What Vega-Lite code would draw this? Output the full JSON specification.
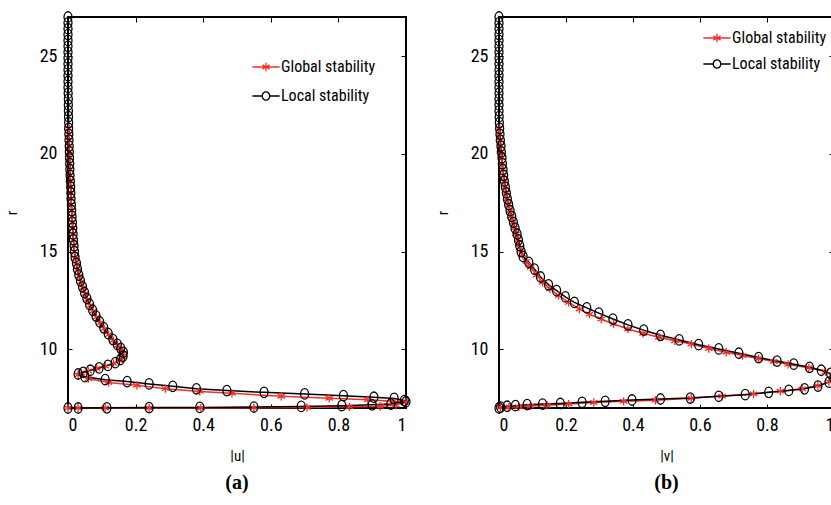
{
"$schema":"https://vega.github.io/schema/vega-lite/v6.json",
"background":"white",
"padding":{"left":3,"top":8,"right":0,"bottom":0},
"spacing":93,
"bounds":"flush",
"config":{
 "font":"Liberation Sans Narrow, Roboto Condensed, DejaVu Sans Condensed, Liberation Sans",
 "view":{"stroke":"black","strokeWidth":2},
 "axis":{"domain":false,"grid":false,"tickColor":"black","tickWidth":1,"labelColor":"black","labelFontSize":18,"titleColor":"black","titleFontWeight":"normal","titleFontSize":15,"labelFont":"Liberation Sans Narrow, Roboto Condensed, DejaVu Sans Condensed, Liberation Sans","titleFont":"Liberation Sans Narrow, Roboto Condensed, DejaVu Sans Condensed, Liberation Sans"},
 "legend":{"labelFont":"Liberation Sans Narrow, Roboto Condensed, DejaVu Sans Condensed, Liberation Sans","labelFontSize":16,"labelColor":"black","symbolStrokeWidth":1.3}
},
"resolve":{"legend":{"color":"independent","shape":"independent"}},
"hconcat":[
{
 "width":338,"height":391,
 "title":{"text":"(a)","orient":"bottom","font":"Liberation Serif","fontSize":20,"fontWeight":"bold","color":"black","offset":10},
 "data":{"values":[
{"s":"g","x":0.002,"r":21.3},{"s":"g","x":0.0025,"r":21.0},{"s":"g","x":0.003,"r":20.7},{"s":"g","x":0.0035,"r":20.4},{"s":"g","x":0.004,"r":20.1},{"s":"g","x":0.0045,"r":19.8},{"s":"g","x":0.005,"r":19.5},{"s":"g","x":0.0055,"r":19.2},{"s":"g","x":0.006,"r":18.9},{"s":"g","x":0.007,"r":18.6},{"s":"g","x":0.008,"r":18.3},{"s":"g","x":0.0085,"r":18.0},{"s":"g","x":0.009,"r":17.7},{"s":"g","x":0.01,"r":17.4},{"s":"g","x":0.011,"r":17.1},{"s":"g","x":0.012,"r":16.8},{"s":"g","x":0.013,"r":16.5},{"s":"g","x":0.014,"r":16.2},{"s":"g","x":0.015,"r":15.9},{"s":"g","x":0.016,"r":15.6},{"s":"g","x":0.018,"r":15.3},{"s":"g","x":0.019,"r":15.0},{"s":"g","x":0.021,"r":14.65},{"s":"g","x":0.025,"r":14.35},{"s":"g","x":0.029,"r":14.05},{"s":"g","x":0.033,"r":13.75},{"s":"g","x":0.038,"r":13.45},{"s":"g","x":0.044,"r":13.15},{"s":"g","x":0.05,"r":12.85},{"s":"g","x":0.057,"r":12.55},{"s":"g","x":0.065,"r":12.25},{"s":"g","x":0.074,"r":11.95},{"s":"g","x":0.084,"r":11.65},{"s":"g","x":0.095,"r":11.35},{"s":"g","x":0.107,"r":11.05},{"s":"g","x":0.12,"r":10.75},{"s":"g","x":0.134,"r":10.45},{"s":"g","x":0.147,"r":10.2},{"s":"g","x":0.157,"r":10.0},{"s":"g","x":0.163,"r":9.8},{"s":"g","x":0.161,"r":9.6},{"s":"g","x":0.152,"r":9.43},{"s":"g","x":0.135,"r":9.27},{"s":"g","x":0.11,"r":9.14},{"s":"g","x":0.085,"r":9.02},{"s":"g","x":0.06,"r":8.9},{"s":"g","x":0.04,"r":8.79},{"s":"g","x":0.03,"r":8.7},{"s":"g","x":0.06,"r":8.5},{"s":"g","x":0.12,"r":8.3},{"s":"g","x":0.204,"r":8.16},{"s":"g","x":0.288,"r":7.99},{"s":"g","x":0.39,"r":7.85},{"s":"g","x":0.485,"r":7.75},{"s":"g","x":0.631,"r":7.6},{"s":"g","x":0.773,"r":7.5},{"s":"g","x":0.887,"r":7.42},{"s":"g","x":0.96,"r":7.34},{"s":"g","x":1.0,"r":7.3},{"s":"g","x":0.97,"r":7.15},{"s":"g","x":0.924,"r":7.08},{"s":"g","x":0.833,"r":7.06},{"s":"g","x":0.707,"r":7.03},{"s":"g","x":0.55,"r":7.01},{"s":"g","x":0.393,"r":7.0},{"s":"g","x":0.24,"r":7.0},{"s":"g","x":0.11,"r":7.0},{"s":"g","x":0.03,"r":7.0},{"s":"g","x":0.0,"r":7.0},
{"s":"l","x":0,"r":27.0},{"s":"l","x":0,"r":26.7},{"s":"l","x":0,"r":26.4},{"s":"l","x":0,"r":26.1},{"s":"l","x":0,"r":25.8},{"s":"l","x":0,"r":25.5},{"s":"l","x":0,"r":25.2},{"s":"l","x":0,"r":24.9},{"s":"l","x":0,"r":24.6},{"s":"l","x":0,"r":24.3},{"s":"l","x":0,"r":24.0},{"s":"l","x":0,"r":23.7},{"s":"l","x":0,"r":23.4},{"s":"l","x":0.0005,"r":23.1},{"s":"l","x":0.001,"r":22.8},{"s":"l","x":0.001,"r":22.5},{"s":"l","x":0.0012,"r":22.2},{"s":"l","x":0.0015,"r":21.9},{"s":"l","x":0.0018,"r":21.6},{"s":"l","x":0.002,"r":21.3},{"s":"l","x":0.0025,"r":21.0},{"s":"l","x":0.003,"r":20.7},{"s":"l","x":0.0035,"r":20.4},{"s":"l","x":0.004,"r":20.1},{"s":"l","x":0.0045,"r":19.8},{"s":"l","x":0.005,"r":19.5},{"s":"l","x":0.0055,"r":19.2},{"s":"l","x":0.006,"r":18.9},{"s":"l","x":0.007,"r":18.6},{"s":"l","x":0.008,"r":18.3},{"s":"l","x":0.0085,"r":18.0},{"s":"l","x":0.009,"r":17.7},{"s":"l","x":0.01,"r":17.4},{"s":"l","x":0.011,"r":17.1},{"s":"l","x":0.012,"r":16.8},{"s":"l","x":0.013,"r":16.5},{"s":"l","x":0.014,"r":16.2},{"s":"l","x":0.015,"r":15.9},{"s":"l","x":0.016,"r":15.6},{"s":"l","x":0.018,"r":15.3},{"s":"l","x":0.019,"r":15.0},{"s":"l","x":0.021,"r":14.7},{"s":"l","x":0.025,"r":14.4},{"s":"l","x":0.028,"r":14.1},{"s":"l","x":0.032,"r":13.8},{"s":"l","x":0.037,"r":13.5},{"s":"l","x":0.043,"r":13.2},{"s":"l","x":0.049,"r":12.9},{"s":"l","x":0.056,"r":12.6},{"s":"l","x":0.064,"r":12.3},{"s":"l","x":0.073,"r":12.0},{"s":"l","x":0.083,"r":11.7},{"s":"l","x":0.094,"r":11.4},{"s":"l","x":0.106,"r":11.1},{"s":"l","x":0.119,"r":10.8},{"s":"l","x":0.133,"r":10.5},{"s":"l","x":0.146,"r":10.25},{"s":"l","x":0.156,"r":10.05},{"s":"l","x":0.164,"r":9.85},{"s":"l","x":0.163,"r":9.65},{"s":"l","x":0.155,"r":9.48},{"s":"l","x":0.14,"r":9.32},{"s":"l","x":0.118,"r":9.18},{"s":"l","x":0.092,"r":9.05},{"s":"l","x":0.066,"r":8.93},{"s":"l","x":0.045,"r":8.82},{"s":"l","x":0.03,"r":8.74},{"s":"l","x":0.05,"r":8.6},{"s":"l","x":0.11,"r":8.45},{"s":"l","x":0.175,"r":8.35},{"s":"l","x":0.24,"r":8.23},{"s":"l","x":0.31,"r":8.11},{"s":"l","x":0.38,"r":7.98},{"s":"l","x":0.47,"r":7.89},{"s":"l","x":0.58,"r":7.8},{"s":"l","x":0.7,"r":7.72},{"s":"l","x":0.815,"r":7.63},{"s":"l","x":0.905,"r":7.55},{"s":"l","x":0.965,"r":7.49},{"s":"l","x":0.995,"r":7.38},{"s":"l","x":1.0,"r":7.32},{"s":"l","x":0.955,"r":7.2},{"s":"l","x":0.9,"r":7.16},{"s":"l","x":0.81,"r":7.12},{"s":"l","x":0.69,"r":7.08},{"s":"l","x":0.55,"r":7.05},{"s":"l","x":0.39,"r":7.03},{"s":"l","x":0.24,"r":7.02},{"s":"l","x":0.115,"r":7.01},{"s":"l","x":0.03,"r":7.0},{"s":"l","x":0.0,"r":7.0}
 ]},
 "resolve":{"scale":{"shape":"independent","color":"independent"}},
 "layer":[
  {"transform":[{"filter":"datum.s=='g'"}],
   "mark":{"type":"line","color":"#f0302a","strokeWidth":1.5},
   "encoding":{
    "x":{"field":"x","type":"quantitative","scale":{"domain":[0,1],"nice":false,"zero":false},"axis":{"orient":"bottom","values":[0,0.2,0.4,0.6,0.8,1],"format":"~g","tickSize":-4,"labelPadding":12,"title":"|u|","titlePadding":14}},
    "y":{"field":"r","type":"quantitative","scale":{"domain":[7,27],"nice":false,"zero":false},"axis":{"orient":"left","values":[10,15,20,25],"tickSize":-4,"labelPadding":15,"title":"r","titlePadding":20}},
    "order":{"value":null}}},
  {"transform":[{"filter":"datum.s=='l'"}],
   "mark":{"type":"line","color":"black","strokeWidth":1.5},
   "encoding":{
    "x":{"field":"x","type":"quantitative","scale":{"domain":[0,1],"nice":false,"zero":false},"axis":{"orient":"top","values":[0.2,0.4,0.6,0.8],"tickSize":-5,"labels":false,"title":null}},
    "y":{"field":"r","type":"quantitative","scale":{"domain":[7,27],"nice":false,"zero":false},"axis":{"orient":"right","values":[10,15,20,25],"tickSize":-5,"labels":false,"title":null}},
    "order":{"value":null}}},
  {"mark":{"type":"point","filled":false,"size":110,"strokeWidth":1.3,"opacity":1},
   "encoding":{
    "x":{"field":"x","type":"quantitative","scale":{"domain":[0,1],"nice":false,"zero":false},"axis":null},
    "y":{"field":"r","type":"quantitative","scale":{"domain":[7,27],"nice":false,"zero":false},"axis":null},
    "color":{"field":"s","type":"nominal","scale":{"domain":["g","l"],"range":["#f0302a","#000000"]},"legend":null},
    "shape":{"field":"s","type":"nominal","scale":{"domain":["g","l"],"range":["M0,-0.8L0,0.8M-0.7,-0.4L0.7,0.4M-0.7,0.4L0.7,-0.4","M0.76,0A0.76,1 0 1 1 -0.76,0A0.76,1 0 1 1 0.76,0"]},"legend":null}
   }},
  {"transform":[{"filter":"datum.r<=7.02"}],
   "mark":{"type":"point","filled":false,"size":110,"strokeWidth":1.3,"opacity":0},
   "encoding":{
    "x":{"field":"x","type":"quantitative","scale":{"domain":[0,1],"nice":false,"zero":false},"axis":null},
    "y":{"field":"r","type":"quantitative","scale":{"domain":[7,27],"nice":false,"zero":false},"axis":null},
    "color":{"field":"s","type":"nominal","scale":{"domain":["g","l"],"range":["#f0302a","#000000"]},
      "legend":{"title":null,"orient":"none","legendX":190,"legendY":42,"rowPadding":13,"labelOffset":7,"symbolSize":110,"symbolOpacity":1,
       "labelExpr":"datum.value=='g' ? 'Global stability' : 'Local stability'"}},
    "shape":{"field":"s","type":"nominal","scale":{"domain":["g","l"],"range":["M-2.6,0L2.6,0M0,-0.8L0,0.8M-0.7,-0.4L0.7,0.4M-0.7,0.4L0.7,-0.4","M-2.6,0L-0.72,0M0.72,0L2.6,0M0.72,0A0.72,0.8 0 1 1 -0.72,0A0.72,0.8 0 1 1 0.72,0"]}}
   }}
 ]
},
{
 "width":335,"height":391,
 "title":{"text":"(b)","orient":"bottom","font":"Liberation Serif","fontSize":20,"fontWeight":"bold","color":"black","offset":10},
 "data":{"values":[
{"s":"g","x":0.0,"r":21.3},{"s":"g","x":0.001,"r":21.0},{"s":"g","x":0.002,"r":20.7},{"s":"g","x":0.004,"r":20.4},{"s":"g","x":0.006,"r":20.1},{"s":"g","x":0.008,"r":19.8},{"s":"g","x":0.009,"r":19.5},{"s":"g","x":0.011,"r":19.2},{"s":"g","x":0.013,"r":18.9},{"s":"g","x":0.015,"r":18.6},{"s":"g","x":0.018,"r":18.3},{"s":"g","x":0.021,"r":18.0},{"s":"g","x":0.024,"r":17.7},{"s":"g","x":0.028,"r":17.4},{"s":"g","x":0.032,"r":17.1},{"s":"g","x":0.036,"r":16.8},{"s":"g","x":0.041,"r":16.5},{"s":"g","x":0.046,"r":16.2},{"s":"g","x":0.051,"r":15.9},{"s":"g","x":0.056,"r":15.6},{"s":"g","x":0.062,"r":15.2},{"s":"g","x":0.07,"r":14.85},{"s":"g","x":0.082,"r":14.5},{"s":"g","x":0.094,"r":14.2},{"s":"g","x":0.112,"r":13.8},{"s":"g","x":0.13,"r":13.43},{"s":"g","x":0.152,"r":13.1},{"s":"g","x":0.178,"r":12.75},{"s":"g","x":0.208,"r":12.4},{"s":"g","x":0.24,"r":12.06},{"s":"g","x":0.27,"r":11.8},{"s":"g","x":0.305,"r":11.55},{"s":"g","x":0.342,"r":11.3},{"s":"g","x":0.385,"r":11.04},{"s":"g","x":0.43,"r":10.82},{"s":"g","x":0.477,"r":10.62},{"s":"g","x":0.525,"r":10.44},{"s":"g","x":0.574,"r":10.27},{"s":"g","x":0.626,"r":10.04},{"s":"g","x":0.678,"r":9.85},{"s":"g","x":0.727,"r":9.68},{"s":"g","x":0.775,"r":9.52},{"s":"g","x":0.82,"r":9.38},{"s":"g","x":0.863,"r":9.23},{"s":"g","x":0.925,"r":9.06},{"s":"g","x":0.975,"r":8.86},{"s":"g","x":0.998,"r":8.6},{"s":"g","x":0.985,"r":8.35},{"s":"g","x":0.952,"r":8.14},{"s":"g","x":0.905,"r":7.98},{"s":"g","x":0.84,"r":7.86},{"s":"g","x":0.76,"r":7.72},{"s":"g","x":0.666,"r":7.61},{"s":"g","x":0.574,"r":7.5},{"s":"g","x":0.467,"r":7.4},{"s":"g","x":0.372,"r":7.34},{"s":"g","x":0.283,"r":7.28},{"s":"g","x":0.208,"r":7.2},{"s":"g","x":0.143,"r":7.14},{"s":"g","x":0.094,"r":7.1},{"s":"g","x":0.059,"r":7.06},{"s":"g","x":0.03,"r":7.04},{"s":"g","x":0.004,"r":7.02},
{"s":"l","x":0,"r":27.0},{"s":"l","x":0,"r":26.7},{"s":"l","x":0,"r":26.4},{"s":"l","x":0,"r":26.1},{"s":"l","x":0,"r":25.8},{"s":"l","x":0,"r":25.5},{"s":"l","x":0,"r":25.2},{"s":"l","x":0,"r":24.9},{"s":"l","x":0,"r":24.6},{"s":"l","x":0,"r":24.3},{"s":"l","x":0,"r":24.0},{"s":"l","x":0,"r":23.7},{"s":"l","x":0,"r":23.4},{"s":"l","x":0,"r":23.1},{"s":"l","x":0,"r":22.8},{"s":"l","x":0,"r":22.5},{"s":"l","x":0,"r":22.2},{"s":"l","x":0.0005,"r":21.9},{"s":"l","x":0.001,"r":21.6},{"s":"l","x":0.002,"r":21.3},{"s":"l","x":0.003,"r":21.0},{"s":"l","x":0.004,"r":20.7},{"s":"l","x":0.006,"r":20.4},{"s":"l","x":0.007,"r":20.1},{"s":"l","x":0.009,"r":19.8},{"s":"l","x":0.01,"r":19.5},{"s":"l","x":0.012,"r":19.2},{"s":"l","x":0.014,"r":18.9},{"s":"l","x":0.016,"r":18.6},{"s":"l","x":0.019,"r":18.3},{"s":"l","x":0.022,"r":18.0},{"s":"l","x":0.025,"r":17.7},{"s":"l","x":0.029,"r":17.4},{"s":"l","x":0.033,"r":17.1},{"s":"l","x":0.038,"r":16.8},{"s":"l","x":0.043,"r":16.5},{"s":"l","x":0.048,"r":16.2},{"s":"l","x":0.054,"r":15.9},{"s":"l","x":0.058,"r":15.6},{"s":"l","x":0.062,"r":15.3},{"s":"l","x":0.066,"r":15.0},{"s":"l","x":0.072,"r":14.75},{"s":"l","x":0.089,"r":14.45},{"s":"l","x":0.106,"r":14.1},{"s":"l","x":0.124,"r":13.7},{"s":"l","x":0.148,"r":13.3},{"s":"l","x":0.172,"r":13.0},{"s":"l","x":0.198,"r":12.68},{"s":"l","x":0.225,"r":12.4},{"s":"l","x":0.262,"r":12.12},{"s":"l","x":0.298,"r":11.85},{"s":"l","x":0.34,"r":11.55},{"s":"l","x":0.385,"r":11.25},{"s":"l","x":0.432,"r":10.98},{"s":"l","x":0.482,"r":10.72},{"s":"l","x":0.538,"r":10.48},{"s":"l","x":0.596,"r":10.24},{"s":"l","x":0.656,"r":10.02},{"s":"l","x":0.716,"r":9.8},{"s":"l","x":0.775,"r":9.58},{"s":"l","x":0.83,"r":9.4},{"s":"l","x":0.88,"r":9.24},{"s":"l","x":0.927,"r":9.08},{"s":"l","x":0.962,"r":8.93},{"s":"l","x":0.99,"r":8.77},{"s":"l","x":1.0,"r":8.55},{"s":"l","x":0.985,"r":8.32},{"s":"l","x":0.952,"r":8.12},{"s":"l","x":0.912,"r":7.98},{"s":"l","x":0.865,"r":7.9},{"s":"l","x":0.805,"r":7.8},{"s":"l","x":0.735,"r":7.68},{"s":"l","x":0.656,"r":7.6},{"s":"l","x":0.571,"r":7.51},{"s":"l","x":0.482,"r":7.46},{"s":"l","x":0.397,"r":7.41},{"s":"l","x":0.317,"r":7.34},{"s":"l","x":0.248,"r":7.29},{"s":"l","x":0.183,"r":7.23},{"s":"l","x":0.13,"r":7.2},{"s":"l","x":0.084,"r":7.17},{"s":"l","x":0.049,"r":7.12},{"s":"l","x":0.024,"r":7.09},{"s":"l","x":0.005,"r":7.04},{"s":"l","x":0.0,"r":7.0}
 ]},
 "resolve":{"scale":{"shape":"independent","color":"independent"}},
 "layer":[
  {"transform":[{"filter":"datum.s=='g'"}],
   "mark":{"type":"line","color":"#f0302a","strokeWidth":1.5},
   "encoding":{
    "x":{"field":"x","type":"quantitative","scale":{"domain":[0,1],"nice":false,"zero":false},"axis":{"orient":"bottom","values":[0,0.2,0.4,0.6,0.8,1],"format":"~g","tickSize":-4,"labelPadding":12,"title":"|v|","titlePadding":14}},
    "y":{"field":"r","type":"quantitative","scale":{"domain":[7,27],"nice":false,"zero":false},"axis":{"orient":"left","values":[10,15,20,25],"tickSize":-4,"labelPadding":15,"title":"r","titlePadding":20}},
    "order":{"value":null}}},
  {"transform":[{"filter":"datum.s=='l'"}],
   "mark":{"type":"line","color":"black","strokeWidth":1.5},
   "encoding":{
    "x":{"field":"x","type":"quantitative","scale":{"domain":[0,1],"nice":false,"zero":false},"axis":{"orient":"top","values":[0.2,0.4,0.6,0.8],"tickSize":-5,"labels":false,"title":null}},
    "y":{"field":"r","type":"quantitative","scale":{"domain":[7,27],"nice":false,"zero":false},"axis":{"orient":"right","values":[10,15,20,25],"tickSize":-5,"labels":false,"title":null}},
    "order":{"value":null}}},
  {"mark":{"type":"point","filled":false,"size":110,"strokeWidth":1.3,"opacity":1},
   "encoding":{
    "x":{"field":"x","type":"quantitative","scale":{"domain":[0,1],"nice":false,"zero":false},"axis":null},
    "y":{"field":"r","type":"quantitative","scale":{"domain":[7,27],"nice":false,"zero":false},"axis":null},
    "color":{"field":"s","type":"nominal","scale":{"domain":["g","l"],"range":["#f0302a","#000000"]},"legend":null},
    "shape":{"field":"s","type":"nominal","scale":{"domain":["g","l"],"range":["M0,-0.8L0,0.8M-0.7,-0.4L0.7,0.4M-0.7,0.4L0.7,-0.4","M0.76,0A0.76,1 0 1 1 -0.76,0A0.76,1 0 1 1 0.76,0"]},"legend":null}
   }},
  {"transform":[{"filter":"datum.r<=7.02"}],
   "mark":{"type":"point","filled":false,"size":110,"strokeWidth":1.3,"opacity":0},
   "encoding":{
    "x":{"field":"x","type":"quantitative","scale":{"domain":[0,1],"nice":false,"zero":false},"axis":null},
    "y":{"field":"r","type":"quantitative","scale":{"domain":[7,27],"nice":false,"zero":false},"axis":null},
    "color":{"field":"s","type":"nominal","scale":{"domain":["g","l"],"range":["#f0302a","#000000"]},
      "legend":{"title":null,"orient":"none","legendX":210,"legendY":13,"rowPadding":10,"labelOffset":7,"symbolSize":110,"symbolOpacity":1,
       "labelExpr":"datum.value=='g' ? 'Global stability' : 'Local stability'"}},
    "shape":{"field":"s","type":"nominal","scale":{"domain":["g","l"],"range":["M-2.6,0L2.6,0M0,-0.8L0,0.8M-0.7,-0.4L0.7,0.4M-0.7,0.4L0.7,-0.4","M-2.6,0L-0.72,0M0.72,0L2.6,0M0.72,0A0.72,0.8 0 1 1 -0.72,0A0.72,0.8 0 1 1 0.72,0"]}}
   }}
 ]
}
]
}
